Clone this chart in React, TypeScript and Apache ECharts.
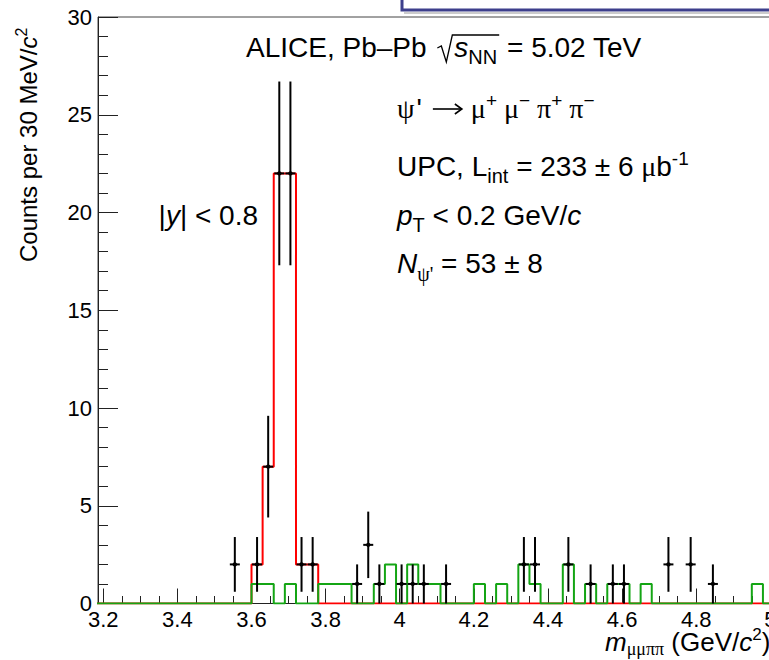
import React, { useEffect, useRef } from 'react';
import * as echarts from 'echarts';

// ---------------- data ----------------
const binWidth = 0.03;
const histStart = 3.18;
const nBins = 61;

// data points (bin centre, counts, error)
const dataMass = [3.555, 3.615, 3.645, 3.675, 3.705, 3.735, 3.765, 3.885, 3.915, 3.945, 4.005, 4.035, 4.065, 4.125, 4.335, 4.365, 4.455, 4.515, 4.575, 4.605, 4.725, 4.785, 4.845];
const dataCounts = [2, 2, 7, 22, 22, 2, 2, 1, 3, 1, 1, 1, 1, 1, 2, 2, 2, 1, 1, 1, 2, 2, 1];
const dataErrors = [1.4, 1.4, 2.6, 4.7, 4.7, 1.4, 1.4, 1.0, 1.7, 1.0, 1.0, 1.0, 1.0, 1.0, 1.4, 1.4, 1.4, 1.0, 1.0, 1.0, 1.4, 1.4, 1.0];

// red histogram (lower bin edges, counts)
const signalEdges = [3.60, 3.63, 3.66, 3.69, 3.72, 3.75];
const signalCounts = [2, 7, 22, 22, 2, 2];

// green histogram (lower bin edges, counts)
const bkgEdges = [3.60, 3.63, 3.69, 3.78, 3.81, 3.84, 3.93, 3.96, 4.02, 4.05, 4.08, 4.20, 4.26, 4.32, 4.35, 4.44, 4.50, 4.56, 4.59, 4.65, 4.95];
const bkgCounts = [1, 1, 1, 1, 1, 1, 1, 2, 2, 1, 1, 1, 1, 2, 1, 2, 1, 1, 1, 1, 1];

const xMajorTicks = [3.2, 3.4, 3.6, 3.8, 4.0, 4.2, 4.4, 4.6, 4.8, 5.0];
const yMin = 0;
const yMax = 30;
const yInterval = 5;

// ---------------- layout ----------------
const X_MIN = 3.1858;
const X_MAX = 5.05;
const PX_PER_GEV = 370.6;
const GRID_LEFT = 98;
const GRID_TOP = 17;
const GRID_H = 586.5;
const GRID_W = (X_MAX - X_MIN) * PX_PER_GEV;

const SANS = '"Liberation Sans", Arial, Helvetica, sans-serif';
const SERIF = '"Liberation Serif", "Times New Roman", serif';
const FS = 28; // annotation font size

function stepPoints(edges: number[], counts: number[]) {
  const vals: number[] = new Array(nBins).fill(0);
  edges.forEach((e, i) => {
    vals[Math.round((e - histStart) / binWidth)] = counts[i];
  });
  const pts: number[][] = [];
  for (let k = 0; k < nBins; k++) {
    const a = histStart + k * binWidth;
    pts.push([a, vals[k]], [a + binWidth, vals[k]]);
  }
  return pts;
}

function minorTicks() {
  const out: number[] = [];
  for (let i = 0; i < xMajorTicks.length - 1; i++) {
    const a = xMajorTicks[i];
    const b = xMajorTicks[i + 1];
    const step = (b - a) / 4;
    for (let j = 1; j < 4; j++) out.push(+(a + j * step).toFixed(4));
  }
  return out;
}

type Piece = { t: string; s?: number; i?: boolean; f?: string; dy?: number; dx?: number };

let mctx: CanvasRenderingContext2D | null = null;
function tw(p: Piece, def: number): number {
  if (!mctx) mctx = document.createElement('canvas').getContext('2d');
  const size = p.s ?? def;
  mctx!.font = `${p.i ? 'italic ' : ''}${size}px ${p.f ?? SANS}`;
  return mctx!.measureText(p.t).width;
}
function runWidth(pieces: Piece[], def = FS) {
  return pieces.reduce((w, p) => w + (p.dx ?? 0) + tw(p, def), 0);
}
function layoutRun(x0: number, base: number, pieces: Piece[], def = FS) {
  const els: any[] = [];
  let x = x0;
  for (const p of pieces) {
    x += p.dx ?? 0;
    const size = p.s ?? def;
    const f = p.f ?? SANS;
    const c = f === SERIF ? 0.3375 : 0.3465;
    els.push({
      type: 'text',
      x,
      y: base + (p.dy ?? 0) - c * size,
      silent: true,
      style: {
        text: p.t,
        fontSize: size,
        fontFamily: f,
        fontStyle: p.i ? 'italic' : 'normal',
        fill: '#000',
        align: 'left',
        verticalAlign: 'middle',
      },
    });
    x += tw(p, def);
  }
  return { els, end: x };
}

function buildGraphics() {
  const g: any[] = [];
  const SUB = 20;
  const SUP = 19;

  // header line with sqrt
  const B1 = 57;
  const h1 = layoutRun(246, B1, [{ t: 'ALICE, Pb\u2013Pb ' }]);
  g.push(...h1.els);
  const r0 = h1.end;
  const h2 = layoutRun(r0 + 20, B1, [{ t: 's', i: true }, { t: 'NN', s: SUB, dy: 7 }]);
  g.push(...h2.els);
  g.push({
    type: 'polyline',
    silent: true,
    shape: {
      points: [
        [r0 + 3, B1 - 9],
        [r0 + 7, B1 - 11],
        [r0 + 12, B1 + 5],
        [r0 + 18, B1 - 22],
        [h2.end + 2, B1 - 22],
      ],
    },
    style: { stroke: '#000', lineWidth: 1.3, fill: 'none' },
  });
  g.push(...layoutRun(h2.end + 2, B1, [{ t: ' = 5.02 TeV' }]).els);

  // psi' -> mu mu pi pi
  const B2 = 118;
  const p1 = layoutRun(397, B2, [
    { t: '\u03C8', f: SERIF },
    { t: "'", dx: 2 },
  ]);
  g.push(...p1.els);
  const ax0 = p1.end + 11;
  const ax1 = ax0 + 29;
  const ay = B2 - 9;
  g.push({
    type: 'line',
    silent: true,
    shape: { x1: ax0, y1: ay, x2: ax1, y2: ay },
    style: { stroke: '#000', lineWidth: 1.6 },
  });
  g.push({
    type: 'polyline',
    silent: true,
    shape: { points: [[ax1 - 7, ay - 5], [ax1, ay], [ax1 - 7, ay + 5]] },
    style: { stroke: '#000', lineWidth: 1.6, fill: 'none' },
  });
  g.push(
    ...layoutRun(ax1 + 9, B2, [
      { t: '\u03BC', f: SERIF },
      { t: '+', s: SUP, dy: -11 },
      { t: ' \u03BC', f: SERIF },
      { t: '\u2212', s: SUP, dy: -11 },
      { t: ' \u03C0', f: SERIF },
      { t: '+', s: SUP, dy: -11 },
      { t: ' \u03C0', f: SERIF },
      { t: '\u2212', s: SUP, dy: -11 },
    ]).els
  );

  // UPC, Lint
  g.push(
    ...layoutRun(397, 176, [
      { t: 'UPC, L' },
      { t: 'int', s: SUB, dy: 7 },
      { t: ' = 233 \u00B1 6 ' },
      { t: '\u03BC', f: SERIF },
      { t: 'b' },
      { t: '-1', s: SUP, dy: -11 },
    ]).els
  );

  // pT
  g.push(
    ...layoutRun(397, 225, [
      { t: 'p', i: true },
      { t: 'T', s: SUB, dy: 7 },
      { t: ' < 0.2 GeV/' },
      { t: 'c', i: true },
    ]).els
  );

  // |y| < 0.8 (right aligned at 258)
  const yPieces: Piece[] = [{ t: '|' }, { t: 'y', i: true }, { t: '| < 0.8' }];
  g.push(...layoutRun(258 - runWidth(yPieces), 225, yPieces).els);

  // N psi'
  g.push(
    ...layoutRun(397, 273, [
      { t: 'N', i: true },
      { t: "\u03C8'", s: SUB, f: SERIF, dy: 8 },
      { t: ' = 53 \u00B1 8' },
    ]).els
  );

  // y axis title (rotated)
  const yt = layoutRun(
    0,
    0,
    [
      { t: 'Counts per 30 MeV/' },
      { t: 'c', i: true },
      { t: '2', s: 16, dy: -10 },
    ],
    24
  );
  g.push({ type: 'group', x: 37, y: 262, rotation: Math.PI / 2, children: yt.els, silent: true });

  // x axis title
  g.push(
    ...layoutRun(
      605,
      651,
      [
        { t: 'm', i: true },
        { t: '\u03BC\u03BC\u03C0\u03C0', f: SERIF, s: 18, dy: 4 },
        { t: ' (GeV/' },
        { t: 'c', i: true },
        { t: '2', s: 17, dy: -11 },
        { t: ')' },
      ],
      26
    ).els
  );

  // partial legend box at the top
  g.push({
    type: 'rect',
    silent: true,
    shape: { x: 402, y: -20, width: 420, height: 30 },
    style: { fill: 'none', stroke: '#3d3f8c', lineWidth: 3 },
  });
  g.push({
    type: 'line',
    silent: true,
    shape: { x1: 404, y1: 13, x2: 800, y2: 13 },
    style: { stroke: '#9a9a9a', lineWidth: 1 },
  });
  return g;
}

export default function App() {
  const ref = useRef<HTMLDivElement>(null);

  useEffect(() => {
    if (!ref.current) return;
    const chart = echarts.init(ref.current, undefined, { renderer: 'svg' });
    const axisColor = '#222';
    const option: any = {
      animation: false,
      grid: {
        left: GRID_LEFT,
        top: GRID_TOP,
        width: GRID_W,
        height: GRID_H,
        show: true,
        borderColor: '#444',
        borderWidth: 1,
        containLabel: false,
        outerBoundsMode: 'none',
      },
      xAxis: [
        {
          type: 'value',
          min: X_MIN,
          max: X_MAX,
          axisLine: { show: true, lineStyle: { color: axisColor, width: 1 } },
          axisTick: { show: true, inside: true, length: 15, customValues: xMajorTicks, lineStyle: { color: axisColor } },
          axisLabel: {
            show: true,
            customValues: xMajorTicks,
            margin: 5,
            fontSize: 22,
            fontFamily: SANS,
            color: '#000',
            hideOverlap: false,
            formatter: (v: number) => String(Number(v.toFixed(1))),
          },
          splitLine: { show: false },
        },
        {
          type: 'value',
          min: X_MIN,
          max: X_MAX,
          position: 'bottom',
          axisLine: { show: false },
          axisTick: { show: true, inside: true, length: 7.5, customValues: minorTicks(), lineStyle: { color: axisColor } },
          axisLabel: { show: false },
          splitLine: { show: false },
        },
      ],
      yAxis: {
        type: 'value',
        min: yMin,
        max: yMax,
        interval: yInterval,
        axisLine: { show: true, lineStyle: { color: axisColor, width: 1 } },
        axisTick: { show: true, inside: true, length: 20, lineStyle: { color: axisColor } },
        minorTick: { show: true, splitNumber: 5, length: 10, lineStyle: { color: axisColor } },
        axisLabel: { margin: 6, fontSize: 22, fontFamily: SANS, color: '#000' },
        splitLine: { show: false },
        minorSplitLine: { show: false },
      },
      series: [
        {
          type: 'line',
          xAxisIndex: 0,
          data: stepPoints(signalEdges, signalCounts),
          symbol: 'none',
          lineStyle: { color: '#ff0000', width: 2 },
          z: 2,
          silent: true,
        },
        {
          type: 'line',
          xAxisIndex: 0,
          data: stepPoints(bkgEdges, bkgCounts),
          symbol: 'none',
          lineStyle: { color: '#14a514', width: 2 },
          z: 3,
          silent: true,
        },
        {
          type: 'custom',
          xAxisIndex: 0,
          z: 4,
          silent: true,
          data: dataMass.map((m, i) => [m, dataCounts[i], dataErrors[i]]),
          encode: { x: 0, y: 1 },
          renderItem: (params: any, api: any) => {
            const x = api.value(0);
            const y = api.value(1);
            const e = api.value(2);
            const c = api.coord([x, y]);
            const top = api.coord([x, y + e]);
            const bot = api.coord([x, Math.max(0, y - e)]);
            return {
              type: 'group',
              children: [
                { type: 'line', shape: { x1: c[0], y1: top[1], x2: c[0], y2: bot[1] }, style: { stroke: '#000', lineWidth: 2 } },
                { type: 'line', shape: { x1: c[0] - 5, y1: c[1], x2: c[0] + 5, y2: c[1] }, style: { stroke: '#000', lineWidth: 2 } },
                { type: 'circle', shape: { cx: c[0], cy: c[1], r: 2.2 }, style: { fill: '#000' } },
              ],
            };
          },
        },
      ],
      graphic: buildGraphics(),
    };
    chart.setOption(option);
    return () => chart.dispose();
  }, []);

  return (
    <div
      ref={ref}
      style={{ position: 'absolute', left: 0, top: 0, width: 769, height: 660, overflow: 'hidden', background: '#fff' }}
    />
  );
}
